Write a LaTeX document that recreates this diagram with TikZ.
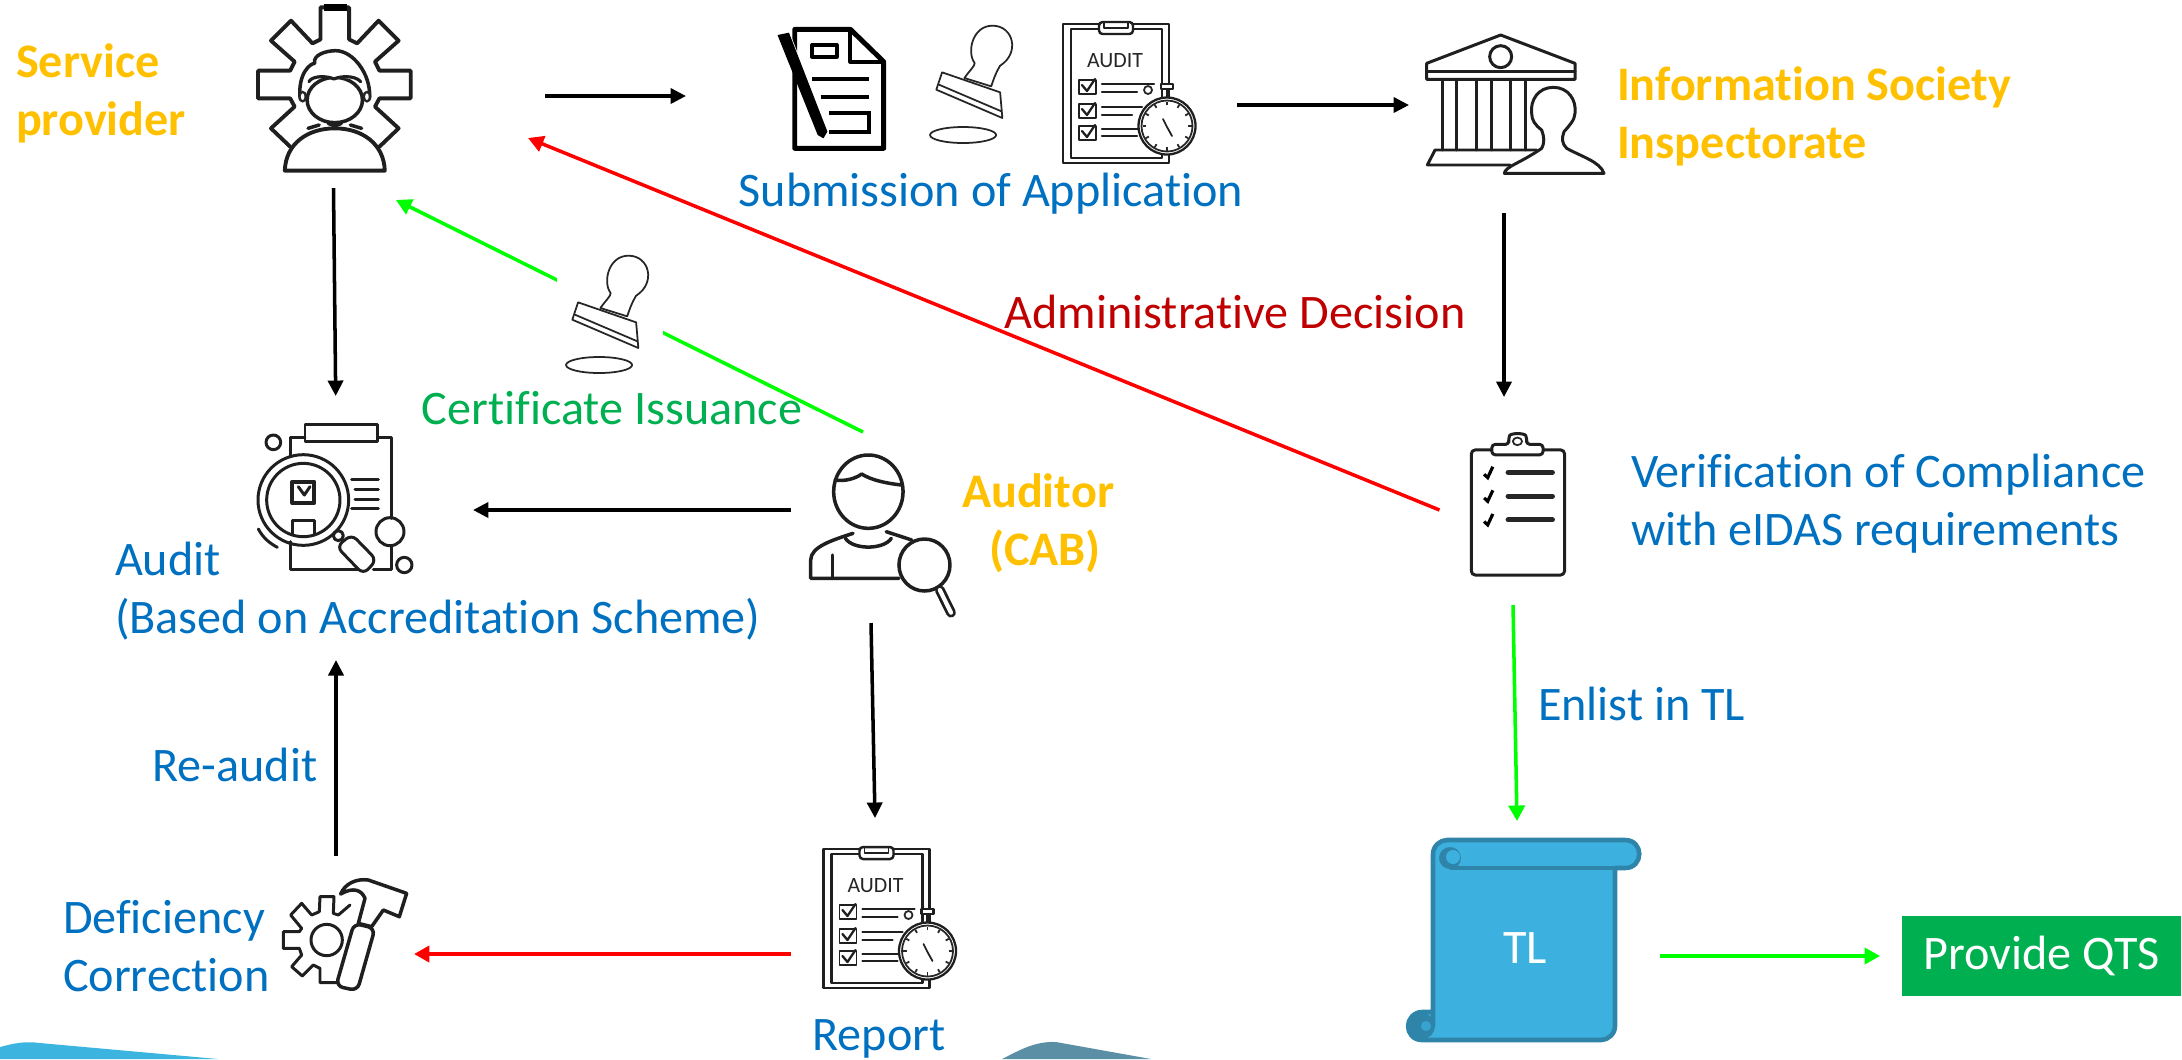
\documentclass[tikz,border=0pt]{standalone}
\usepackage{fontspec}
\setmainfont{Carlito}[Ligatures=NoCommon]
\usetikzlibrary{arrows.meta,calc}
\definecolor{labelorange}{HTML}{FFC000}
\definecolor{labelblue}{HTML}{0070C0}
\definecolor{labelgreen}{HTML}{00B050}
\definecolor{labelred}{HTML}{C00000}
\definecolor{scrollfill}{HTML}{3CB1DF}
\definecolor{scrollline}{HTML}{2F84A9}
\definecolor{bandblue}{HTML}{3CB4E0}
\definecolor{bandteal}{HTML}{5A8FA6}
\tikzset{
  x=0.01cm,y=-0.01cm,
  txt/.style={inner sep=0pt,outer sep=0pt,align=left,font=\fontsize{13.7}{16.5}\selectfont},
  bluetxt/.style={txt,text=labelblue},
  actor/.style={txt,text=labelorange,font=\fontsize{13.7}{16.5}\selectfont\bfseries},
  flow/.style={line width=1pt,-{Triangle[length=4.4pt,width=4.3pt]}},
  redflow/.style={line width=1pt,color=red,-{Triangle[length=4.4pt,width=4.6pt]}},
  greenflow/.style={line width=1pt,color=green,-{Triangle[length=4.4pt,width=4.6pt]}},
  ink/.style={draw=black!88,line width=0.85pt,line join=round,line cap=round},
  fineink/.style={draw=black!85,line width=0.5pt,line join=round},
  stampicon/.pic={
    \fill[white] (-1,0) rectangle (105,130);
    \begin{scope}[xscale=.4464,yscale=.3333,shift={(-1250,-745)}]
      \draw[fineink,fill=white] (1345,925) .. controls (1358,900) and (1368,890) .. (1368,880)
        .. controls (1350,850) and (1362,768) .. (1408,768)
        .. controls (1455,768) and (1470,850) .. (1425,888)
        .. controls (1415,910) and (1410,930) .. (1405,950) -- cycle;
      \draw[fineink,fill=white] (1295,908) -- (1425,968) -- (1430,1045) -- (1282,960) -- cycle;
      \draw[fineink] (1288,945) -- (1428,1025);
      \draw[fineink] (1342,1096) ellipse [x radius=74,y radius=24];
    \end{scope}
  },
  auditicon/.pic={
    \draw[ink,line width=.6pt,fill=white] (1,2) rectangle (107,141);
    \draw[ink,line width=.6pt] (9,7) rectangle (100,136);
    \draw[ink,line width=.7pt,fill=white,rounded corners=1pt] (37,0) rectangle (71,12);
    \draw[ink,line width=.4pt] (42,0) -- (42,6) -- (66,6) -- (66,0);
    \node[inner sep=0pt,text=black!85,font=\fontsize{6.2}{7}\selectfont] (lbl) at (53,39) {AUDIT};
    \foreach \yy in {58,82,104} {
      \draw[ink,line width=.55pt] (17,\yy) rectangle (34,\yy+14);
      \draw[ink,line width=.65pt] (20,\yy+5) -- (25,\yy+11) -- (33,\yy-1);
    }
    \draw[ink,line width=.65pt] (40,62) -- (92,62) (40,70) -- (75,70) (40,85) -- (80,85) (40,93) -- (70,93) (40,107) -- (76,107) (40,114) -- (75,114);
    \draw[fineink] (86,68) circle (4);
    \draw[ink,line width=.7pt,fill=white] (105,66) -- (105,78);
    \draw[ink,line width=.7pt,fill=white] (99,62) rectangle (111,67);
    \draw[ink,line width=.65pt,fill=white] (105,104) circle (28.5);
    \draw[fineink] (105,104) circle (25.5);
    \foreach \aa in {0,30,...,330} { \draw[fineink] ($(105,104)+(\aa:21)$) -- ($(105,104)+(\aa:24.5)$); }
    \draw[ink,line width=.5pt] (101,97) -- (105,105) -- (110,114);
  }
}
\begin{document}
\begin{tikzpicture}
\useasboundingbox (0,0) rectangle (2182,1059);

% background bands
\fill[bandblue] (0,1059) -- (0,1047) .. controls (15,1043) and (25,1041) .. (40,1043) -- (218,1059) -- cycle;
\fill[bandteal] (1002,1059) .. controls (1020,1050) and (1035,1041) .. (1056,1042) -- (1151,1059) -- cycle;

% connector ends
\coordinate (spA) at (545,96);      \coordinate (subA) at (686,96);
\coordinate (subB) at (1237,105);   \coordinate (isA) at (1409,105);
\coordinate (isB) at (1504,213);    \coordinate (verA) at (1504,397);
\coordinate (verB) at (1439.5,510); \coordinate (spB) at (528,138);
\coordinate (spC) at (333.5,188);   \coordinate (audA) at (335.7,396);
\coordinate (autA) at (863,432);    \coordinate (spD) at (396,200);
\coordinate (autB) at (791,510);    \coordinate (audB) at (473,510);
\coordinate (autC) at (871,623);    \coordinate (repA) at (875,818);
\coordinate (repB) at (791,954);    \coordinate (defA) at (414,954);
\coordinate (defB) at (336,856);    \coordinate (audC) at (336,660);
\coordinate (verC) at (1513,605);   \coordinate (tlA) at (1517,821);
\coordinate (tlB) at (1659.5,956);  \coordinate (qtsA) at (1880,956);

\draw[flow] (spA) -- (subA);
\draw[flow] (subB) -- (isA);
\draw[flow] (isB) -- (verA);
\draw[flow] (spC) -- (audA);
\draw[flow] (autB) -- (audB);
\draw[flow] (autC) -- (repA);
\draw[flow] (defB) -- (audC);
\draw[redflow] (verB) -- (spB);
\draw[redflow,line width=1.15pt] (repB) -- (defA);
\draw[greenflow] (autA) -- (spD);
\draw[greenflow] (verC) -- (tlA);
\draw[greenflow] (tlB) -- (qtsA);

% service provider icon
\begin{scope}[xscale=.4464,yscale=.3333]
  \draw[ink,line width=1.1pt] (650,440) -- (607,385) -- (660,320) -- (650,295) -- (578,295) -- (578,212) -- (650,212) -- (660,185) -- (607,122) -- (652,62) -- (700,130) -- (718,118) -- (718,22) -- (782,22) -- (782,118) -- (800,130) -- (848,62) -- (893,122) -- (840,185) -- (850,212) -- (920,212) -- (920,295) -- (850,295) -- (840,320) -- (893,385) -- (850,440);
  \draw[line width=2pt,black] (725,22) -- (778,22);
  \draw[ink,line width=1.1pt,fill=white] (638,512) .. controls (640,430) and (690,385) .. (750,385) .. controls (810,385) and (860,430) .. (862,512) -- cycle;
  \draw[ink,line width=1pt,fill=white] (672,290) .. controls (668,220) and (695,190) .. (705,190) .. controls (700,165) and (730,152) .. (752,152) .. controls (790,152) and (830,220) .. (828,290) -- cycle;
  \draw[ink,line width=1pt,fill=white] (750,300) ellipse [x radius=62,y radius=68];
  \fill[white] (700,215) -- (800,215) -- (806,240) -- (760,232) -- (748,237) -- (735,230) -- (695,235) -- cycle;
  \draw[ink,line width=.9pt] (692,245) .. controls (700,225) and (735,228) .. (748,237) .. controls (762,228) and (795,225) .. (808,245);
  \fill[black!85] (678,290) ellipse [x radius=10,y radius=18] (822,290) ellipse [x radius=10,y radius=18];
  \fill[white] (678,290) ellipse [x radius=4,y radius=10] (822,290) ellipse [x radius=4,y radius=10];
  \draw[ink,line width=1pt] (690,385) -- (715,375) (810,385) -- (785,375) (735,370) -- (750,378) -- (765,370);
\end{scope}

% document with pen icon
\begin{scope}[shift={(700,0)},xscale=.574,yscale=.3333]
  \draw[ink,draw=black,line width=1.4pt,miter limit=4,line cap=butt,fill=white] (165,88) -- (262,88) -- (320,185) -- (320,445) -- (165,445) -- cycle;
  \draw[ink,draw=black,line width=1.1pt] (262,88) -- (262,185) -- (320,185);
  \draw[ink,draw=black,line width=1.1pt] (195,135) rectangle (238,170);
  \draw[draw=black,line width=1.1pt] (195,238) -- (295,238) (210,290) -- (295,290);
  \draw[draw=black,line width=1.1pt] (225,340) -- (295,340) -- (295,395) -- (225,395);
  \draw[white,line width=3pt] (147,100) -- (217,410);
  \fill[black] (135,105) -- (155,98) -- (222,395) -- (215,415) -- (205,405) -- cycle;
\end{scope}

\pic (stampA) at (922,18) {stampicon};
\pic (auditA) at (1062,22) {auditicon};
\pic (stampB) at (558,248) {stampicon};
\pic (auditB) at (822.5,847) {auditicon};

% inspectorate icon
\begin{scope}[shift={(1410,10)},xscale=.3333,yscale=.3333]
  \draw[ink] (50,160) -- (272,75) -- (495,160) -- (495,208) -- (50,208) -- cycle;
  \draw[ink] (50,183) -- (495,183);
  \draw[ink] (272,140) circle (33);
  \foreach \xx in {97,140,200,243,300,345} { \draw[ink] (\xx,208) -- (\xx,420); }
  \draw[ink] (52,465) -- (75,420) -- (380,420) (52,465) -- (300,465);
  \draw[ink,fill=white] (283,490) .. controls (285,470) and (330,460) .. (395,415) .. controls (405,395) and (402,380) .. (395,360) .. controls (375,345) and (365,330) .. (365,310) .. controls (360,270) and (385,232) .. (430,232) .. controls (475,232) and (500,270) .. (495,310) .. controls (495,330) and (475,350) .. (462,365) .. controls (455,385) and (455,400) .. (470,415) .. controls (515,440) and (570,455) .. (582,490) -- cycle;
\end{scope}

% verification clipboard icon
\begin{scope}[shift={(1380,400)},xscale=.5128,yscale=.4219]
  \draw[ink,rounded corners=1.2pt] (178,118) rectangle (360,415);
  \draw[ink,fill=white,rounded corners=1pt] (218,130) -- (218,105) -- (252,105) -- (250,92) .. controls (255,78) and (282,78) .. (287,92) -- (285,105) -- (318,105) -- (318,130) -- cycle;
  \draw[fineink] (268,98) circle (9);
  \foreach \yy in {172,228,284} {
    \draw[draw=black!85,line width=1.5pt,line cap=round] (250,\yy) -- (336,\yy);
    \draw[draw=black,line width=.9pt] (203,\yy+4) -- (210,\yy+12) -- (220,\yy-14);
  }
\end{scope}

% audit magnifier icon
\begin{scope}[shift={(245,415)},xscale=.3333,yscale=.3333]
  \draw[ink] (180,68) -- (137,68) -- (137,125) (398,68) -- (440,68) -- (440,310) (440,392) -- (440,462) -- (385,462) (137,380) -- (137,462) -- (340,462);
  \draw[ink] (180,28) rectangle (398,78);
  \draw[ink] (85,82) circle (22);
  \draw[ink] (435,350) circle (42);
  \draw[ink] (478,450) circle (23);
  \draw[ink] (175,255) circle (136);
  \draw[ink] (175,255) circle (110);
  \draw[ink,line width=1.1pt] (142,200) rectangle (208,264);
  \draw[ink] (160,215) -- (178,240) -- (195,215);
  \draw[ink] (142,358) -- (142,315) -- (208,315) -- (208,358);
  \draw[ink] (320,192) -- (400,192) (330,222) -- (400,222) (330,252) -- (400,252) (320,280) -- (400,280);
  \draw[ink] (40,342) .. controls (55,370) and (75,385) .. (97,397);
  \draw[ink] (280,362) circle (15);
  \draw[ink,fill=white,rounded corners=2pt] (275,395) -- (320,358) -- (395,435) -- (355,478) -- cycle;
\end{scope}

% auditor icon
\begin{scope}[shift={(200,400)},xscale=.5102,yscale=.3333]
  \draw[ink,line width=1pt] (1310,275) ellipse [x radius=68,y radius=110];
  \draw[ink,line width=1pt] (1245,240) .. controls (1265,245) and (1285,235) .. (1297,222) .. controls (1315,240) and (1345,250) .. (1375,255);
  \draw[ink,line width=1pt] (1265,415) .. controls (1280,450) and (1340,450) .. (1355,415);
  \draw[ink,line width=1pt] (1370,535) -- (1197,535) -- (1197,480) .. controls (1197,440) and (1240,420) .. (1280,400);
  \draw[ink,line width=1pt] (1345,395) -- (1395,420);
  \draw[ink,line width=1pt] (1240,465) -- (1240,535);
  \draw[ink,line width=1pt,fill=white] (1420,495) ellipse [x radius=50,y radius=78];
  \draw[black!88,line width=2.8pt,line cap=round] (1450,570) -- (1472,638);
  \draw[white,line width=1.2pt,line cap=round] (1450,570) -- (1472,638);
\end{scope}

% gear with hammer icon
\begin{scope}[shift={(270,860)},xscale=.3333,yscale=.3333]
  \draw[ink] (240,135) -- (205,165) -- (190,160) -- (192,110) -- (150,110) -- (148,155) -- (125,165) -- (95,130) -- (62,165) -- (95,205) -- (88,215) -- (40,215) -- (40,265) -- (88,265) -- (95,285) -- (65,320) -- (97,348) -- (130,315) -- (150,325) -- (150,368) -- (200,368);
  \draw[ink] (170,240) circle (47);
  \draw[ink,line width=1pt,fill=white] (265,190) -- (285,115) .. controls (275,90) and (250,80) .. (212,102) .. controls (225,70) and (260,55) .. (295,60) -- (410,100) -- (388,170) -- (340,150) -- (305,200) -- cycle;
  \draw[ink,line width=1pt,fill=white,rounded corners=2pt] (252,190) -- (315,205) -- (262,392) -- (198,378) -- cycle;
\end{scope}

% trust list scroll
\begin{scope}
  \path[fill=scrollfill,draw=scrollline,line width=1.3pt,line join=round]
    (1433,1026) -- (1433,854) .. controls (1433,846) and (1440,840) .. (1447,840) -- (1625,840)
    .. controls (1644,840) and (1644,868) .. (1625,868) -- (1615,868) -- (1615,1026)
    .. controls (1615,1034) and (1608,1040) .. (1601,1040) -- (1422,1040)
    .. controls (1413,1040) and (1408,1033) .. (1408,1026) .. controls (1408,1019) and (1414,1012) .. (1422,1012) -- (1433,1012);
  \draw[scrollline,line width=1.3pt] (1450,868) -- (1615,868);
  \fill[scrollline] (1450,858) circle (11);
  \fill[scrollfill] (1453,857) circle (7);
  \fill[scrollline] (1422,1026) circle (13);
  \fill[scrollfill!70!scrollline] (1426,1026) circle (5);
\end{scope}
\node[txt,text=white] (tl) at (1525,948) {TL};

% provide QTS
\node[txt,text=white,fill=labelgreen,minimum width=279*0.01cm,minimum height=80*0.01cm] (qts) at (2041.5,956) {Provide QTS};

% labels
\node[actor,anchor=west] (serviceprovider) at (16,93.5) {Service\\provider};
\node[actor,anchor=west] (inspectorate) at (1617,116.5) {Information Society\\Inspectorate};
\node[actor,align=center] (auditor) at (1038,523.5) {Auditor\\\hspace*{4pt}(CAB)};
\node[bluetxt] (submission) at (991,194) {Submission of Application};
\node[txt,text=labelred] (decision) at (1235,312) {Administrative Decision};
\node[txt,text=labelgreen] (certificate) at (612,408) {Certificate Issuance};
\node[bluetxt,anchor=west] (audit) at (115,591) {Audit\\(Based on Accreditation Scheme)};
\node[bluetxt,anchor=west] (verification) at (1631,504) {Verification of Compliance\\with eIDAS requirements};
\node[bluetxt,anchor=west] (enlist) at (1538,704) {Enlist in TL};
\node[bluetxt] (reaudit) at (235,765) {Re-audit};
\node[bluetxt,anchor=west] (deficiency) at (63,946) {Deficiency\\Correction};
\node[bluetxt] (report) at (879,1039) {Report};
\end{tikzpicture}
\end{document}
